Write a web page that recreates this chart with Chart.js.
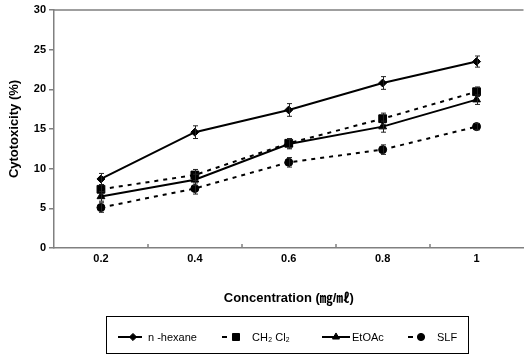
<!DOCTYPE html>
<html><head><meta charset="utf-8">
<script src="https://cdn.jsdelivr.net/npm/chart.js@4.4.1/dist/chart.umd.min.js"></script>
<style>html,body{margin:0;padding:0;background:#fff;overflow:hidden;width:528px;height:354px}canvas{display:block}</style>
</head><body>
<canvas id="c" width="530" height="354"></canvas>
<script>
const categories = ['0.2', '0.4', '0.6', '0.8', '1'];
const hexane = [8.7, 14.6, 17.4, 20.8, 23.5];
const hexaneErr = [0.7, 0.8, 0.8, 0.8, 0.7];
const ch2cl2 = [7.4, 9.2, 13.2, 16.3, 19.7];
const ch2cl2Err = [0.6, 0.7, 0.6, 0.7, 0.6];
const etoac = [6.5, 8.6, 13.1, 15.3, 18.7];
const etoacErr = [0.6, 0.7, 0.6, 0.7, 0.6];
const slf = [5.1, 7.5, 10.8, 12.4, 15.3];
const slfErr = [0.6, 0.7, 0.6, 0.6, 0.4];
const yTicks = [0, 5, 10, 15, 20, 25, 30];
const seriesNames = ['n -hexane', 'CH\u2082 Cl\u2082', 'EtOAc', 'SLF'];

const FONT = "'Liberation Sans', Arial, 'Noto Sans CJK KR', sans-serif";
const errs = [hexaneErr, ch2cl2Err, etoacErr, slfErr];

function ds(label, data, style, dash, radius) {
  return {label, data, borderColor:'#000', backgroundColor:'#000', borderWidth:2,
    borderDash: dash, pointStyle: style, pointRadius: radius, pointHoverRadius: radius,
    pointBorderWidth:1, tension:0, fill:false};
}

const extras = {
  id: 'extras',
  afterDatasetsDraw(chart) {
    const ctx = chart.ctx, xs = chart.scales.x, ys = chart.scales.y, ca = chart.chartArea;
    // error bars
    ctx.save();
    ctx.strokeStyle = '#222'; ctx.lineWidth = 1;
    chart.data.datasets.forEach((d, di) => {
      d.data.forEach((v, i) => {
        const x = Math.round(xs.getPixelForValue(i)) + 0.5;
        const y1 = ys.getPixelForValue(v + errs[di][i]);
        const y2 = ys.getPixelForValue(v - errs[di][i]);
        ctx.beginPath();
        ctx.moveTo(x, y1); ctx.lineTo(x, y2);
        ctx.moveTo(x - 2.5, y1); ctx.lineTo(x + 2.5, y1);
        ctx.moveTo(x - 2.5, y2); ctx.lineTo(x + 2.5, y2);
        ctx.stroke();
      });
    });
    ctx.restore();
    // top border and inward x ticks
    ctx.save();
    ctx.strokeStyle = '#808080'; ctx.lineWidth = 1.5;
    ctx.beginPath();
    ctx.moveTo(ca.left, ca.top); ctx.lineTo(ca.right, ca.top);
    for (let i = 0; i < categories.length - 1; i++) {
      const x = Math.round((xs.getPixelForValue(i) + xs.getPixelForValue(i + 1)) / 2);
      ctx.moveTo(x, ca.bottom); ctx.lineTo(x, ca.bottom - 4);
    }
    ctx.stroke();
    ctx.restore();
    // legend
    ctx.save();
    const top = 316, bot = 353, left = 106, right = 468;
    ctx.strokeStyle = '#000'; ctx.lineWidth = 1;
    ctx.strokeRect(left + 0.5, top + 0.5, right - left, bot - top);
    const cy = 337;
    const items = [
      {x0:118, x1:142, mx:133, tx:148},
      {x0:222, x1:240, mx:236, tx:252},
      {x0:322, x1:350, mx:336, tx:352},
      {x0:408, x1:425, mx:421, tx:437},
    ];
    items.forEach((it, i) => {
      const d = chart.data.datasets[i];
      ctx.strokeStyle = '#000'; ctx.lineWidth = 2;
      ctx.setLineDash(d.borderDash && d.borderDash.length ? [5, 5] : []);
      ctx.beginPath(); ctx.moveTo(it.x0, cy); ctx.lineTo(it.x1, cy); ctx.stroke();
      ctx.setLineDash([]);
      ctx.lineWidth = 1; ctx.fillStyle = '#000'; ctx.strokeStyle = '#000';
      Chart.helpers.drawPoint(ctx, {pointStyle: d.pointStyle, radius: d.pointRadius * 0.9, borderWidth: 1}, it.mx, cy);
      ctx.fillStyle = '#000';
      ctx.font = '11px ' + FONT;
      ctx.textBaseline = 'middle';
      ctx.fillText(seriesNames[i], it.tx, cy + 1);
    });
    ctx.restore();
  }
};

new Chart(document.getElementById('c'), {
  type: 'line',
  data: {
    labels: categories,
    datasets: [
      ds(seriesNames[0], hexane, 'rectRot', [], 4),
      ds(seriesNames[1], ch2cl2, 'rect', [4, 5], 5.5),
      ds(seriesNames[2], etoac, 'triangle', [], 4.5),
      ds(seriesNames[3], slf, 'circle', [4, 5], 4),
    ]
  },
  options: {
    responsive: false, animation: false, devicePixelRatio: 1,
    layout: {padding: {top: 10, right: 0, bottom: 48, left: 7}},
    plugins: {legend: {display: false}, tooltip: {enabled: false}},
    scales: {
      x: {
        type: 'category', offset: true,
        grid: {display: false, offset: true, drawTicks: false},
        border: {color: '#808080', width: 1.5},
        ticks: {color: '#000', font: {family: FONT, size: 11, weight: 'bold'}, padding: 4},
        title: {display: true, text: 'Concentration (\u338E/\u3396)', color: '#000',
          font: {family: FONT, size: 13, weight: 'bold'}, padding: {top: 4, bottom: 0}},
        afterFit(s) { s.height = 58; }
      },
      y: {
        min: 0, max: 30,
        afterBuildTicks(s) { s.ticks = yTicks.map(v => ({value: v})); },
        grid: {drawOnChartArea: false, color: '#808080', tickLength: 5, lineWidth: 1.5},
        border: {color: '#808080', width: 1.5},
        ticks: {color: '#000', font: {family: FONT, size: 11, weight: 'bold'}, padding: 3},
        title: {display: true, text: 'Cytotoxicity (%)', color: '#000',
          font: {family: FONT, size: 13, weight: 'bold'}, padding: {top: 0, bottom: 4}},
        afterFit(s) { s.width = 47; }
      }
    }
  },
  plugins: [extras]
});
</script>
</body></html>
